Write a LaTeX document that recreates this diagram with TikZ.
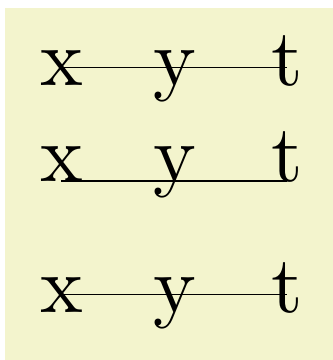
\documentclass[tikz,border=0pt]{standalone}
\usepackage{fontspec}
\usepackage{graphicx}
\usepackage{xcolor}
\usepackage{tikz}
\definecolor{bgyellow}{RGB}{243,244,205}
\newcommand{\bigletter}[1]{\scalebox{2.43}{#1}}

\begin{document}
\begin{tikzpicture}[x=0.3pt, y=-0.3pt,
    letter/.style={anchor=base, inner sep=0pt, font=\fontsize{10}{12}\selectfont}]
  \useasboundingbox (0,0) rectangle (333,360);
  \fill[bgyellow] (5,8) rectangle (333,360);
  \foreach \row/\yy in {1/85, 2/181, 3/312} {
    \node[letter] (x\row) at (61.5,\yy) {\bigletter{x}};
    \node[letter] (y\row) at (175,\yy)  {\bigletter{y}};
    \node[letter] (t\row) at (287,\yy)  {\bigletter{t}};
  }
  \draw ([yshift=5.25pt]x1.base) -- ([yshift=5.25pt]t1.base);
  \draw (x2.base) -- (t2.base);
  \draw ([yshift=5.25pt]x3.base) -- ([yshift=5.25pt]t3.base);
\end{tikzpicture}
\end{document}
